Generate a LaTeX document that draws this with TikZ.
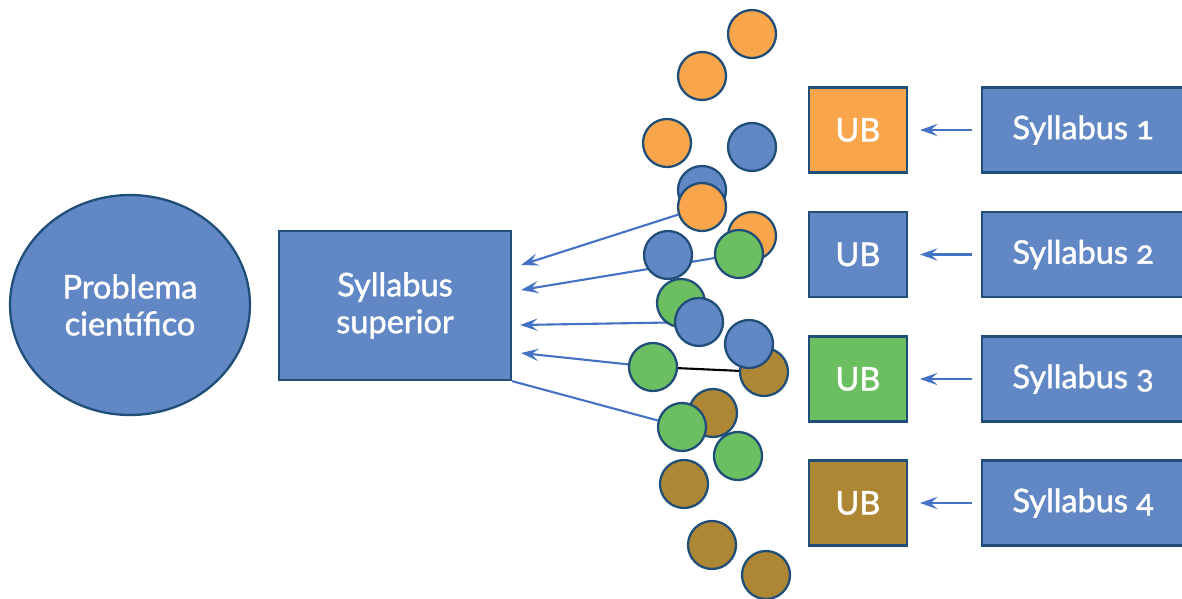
\documentclass[tikz,border=0pt]{standalone}
\usepackage{fontspec}
\setmainfont{Lato}[FakeBold=1.4, Numbers=OldStyle]
\usepackage{xcolor}
\usepackage{tikz}
\usetikzlibrary{positioning}
\usetikzlibrary{shapes.geometric}
\usetikzlibrary{arrows.meta}
\usetikzlibrary{backgrounds}
\definecolor{fillblue}{HTML}{6287C5}
\definecolor{edgeblue}{HTML}{1F4E79}
\definecolor{arrowblue}{HTML}{4472C4}
\definecolor{ubOrange}{HTML}{F9A54B}
\definecolor{ubGreen}{HTML}{6BBF60}
\definecolor{ubBrown}{HTML}{AD8733}
\tikzstyle{boxbase} = [draw=edgeblue, line width=1.3pt, text=white,
font=\fontsize{18.5}{21}\selectfont, inner sep=0pt]
\tikzstyle{ubbox} = [boxbase, rectangle, minimum width=1.96cm, minimum height=1.70cm]
\tikzstyle{sylbox} = [boxbase, rectangle, fill=fillblue, minimum width=4.6cm, minimum height=1.70cm]
\tikzstyle{ball} = [circle, draw=edgeblue, line width=1.3pt, minimum size=0.96cm, inner sep=0pt]
\tikzstyle{feed} = [draw=arrowblue, line width=1.2pt, -{Stealth[length=10pt, width=7pt, inset=4pt]}]

\begin{document}
\begin{tikzpicture}[x=0.02cm, y=-0.02cm]
    \useasboundingbox (0,0) rectangle (1182,598);
    \node[boxbase, ellipse, fill=fillblue, minimum width=4.8cm, minimum height=4.4cm, align=center] (prob) at (130,305) {Problema\\científico};
    \node[sylbox, minimum width=4.64cm, minimum height=2.98cm, align=center] (sup) at (395,305.5) {Syllabus\\superior};

    % one row per syllabus (box runs off the right edge)
    \foreach \i/\y/\c in {1/130/ubOrange, 2/254.5/fillblue, 3/379/ubGreen, 4/503/ubBrown}{
        \node[sylbox, anchor=west] (syl\i) at (981,\y) {Syllabus \i\hspace*{0.56cm}};
        \node[ubbox, fill=\c, left=1.46cm of syl\i] (ub\i) {UB};
        \draw[feed, shorten <=0.18cm, shorten >=0.24cm] (syl\i) -- (ub\i);
    }

    % the units, scattered
    \foreach \n/\x/\y/\c in {o1/752/34/ubOrange, o2/702/76/ubOrange, o3/667/143/ubOrange,
        b1/752/147/fillblue, b2/702/190/fillblue, o4/702/207/ubOrange, o5/752/236/ubOrange,
        g1/739/254/ubGreen, b3/668/255/fillblue, g2/681/303/ubGreen, b4/699/322/fillblue,
        w1/764/372/ubBrown, b5/749/344/fillblue, g3/653/367/ubGreen, w2/713/413/ubBrown,
        g4/682/427/ubGreen, g5/738/456/ubGreen, w3/684/484/ubBrown, w4/712/545/ubBrown,
        w5/766/575/ubBrown}
        \node[ball, fill=\c] (\n) at (\x,\y) {};

    \begin{scope}[on background layer]
        \coordinate (in1) at (521,265);
        \coordinate (in2) at (521,290);
        \coordinate (in3) at (520,325);
        \coordinate (in4) at (521,353);
        \draw[feed] (o4) -- (in1);
        \draw[feed] (g1) -- (in2);
        \draw[feed] (b4) -- (in3);
        \draw[feed] (g3) -- (in4);
        \draw[draw=arrowblue, line width=1.2pt] (sup.south east) -- (g4);
        \draw[black, line width=1.2pt] (g3) -- (w1);
    \end{scope}
\end{tikzpicture}
\end{document}
